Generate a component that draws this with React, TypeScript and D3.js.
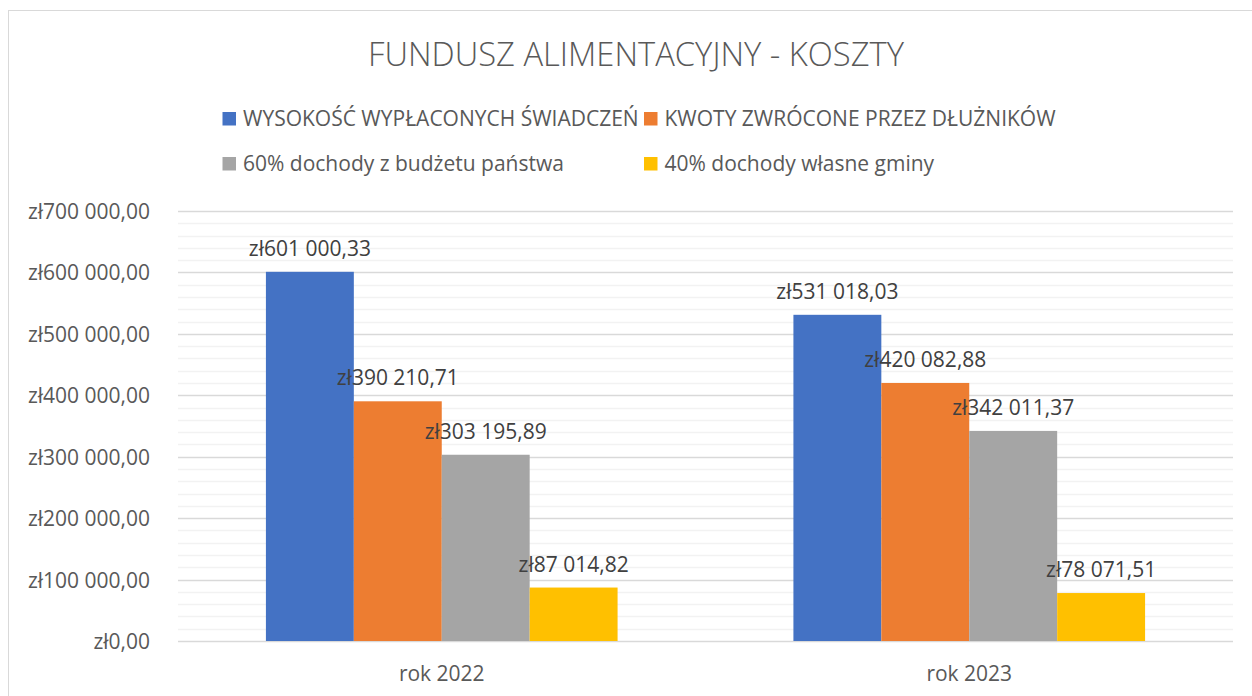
import React from "react";
import * as d3 from "d3";

const categories = ["rok 2022", "rok 2023"];
const seriesNames = [
  "WYSOKOŚĆ WYPŁACONYCH ŚWIADCZEŃ",
  "KWOTY ZWRÓCONE PRZEZ DŁUŻNIKÓW",
  "60% dochody z budżetu państwa",
  "40% dochody własne gminy",
];
const seriesColors = ["#4472C4", "#ED7D31", "#A5A5A5", "#FFC000"];
const values2022 = [601000.33, 390210.71, 303195.89, 87014.82];
const values2023 = [531018.03, 420082.88, 342011.37, 78071.51];
const seriesValues = [values2022, values2023];
const yTicks = [0, 100000, 200000, 300000, 400000, 500000, 600000, 700000];

const fmt = (v: number) => {
  const [i, d] = v.toFixed(2).split(".");
  const grouped = i.replace(/\B(?=(\d{3})+(?!\d))/g, " ");
  return `zł${grouped},${d}`;
};

export default function App() {
  const W = 1252, H = 696;
  const left = 178, right = 1233, top = 211, bottom = 641;
  const font = "'Open Sans', 'Noto Sans', sans-serif";
  const textColor = "#595959";

  const y = d3.scaleLinear().domain([0, 700000]).range([bottom, top]);
  const x0 = d3.scaleBand().domain(categories).range([left, right]).paddingInner(0).paddingOuter(0);
  const bw = x0.bandwidth() / 6;
  const minorTicks = d3.range(0, 700001, 20000).filter((t) => t % 100000 !== 0);

  const legendItems = [
    { x: 222.5, y: 125.5 },
    { x: 644, y: 125.5 },
    { x: 222.5, y: 170.5 },
    { x: 644, y: 170.5 },
  ];

  return (
    <svg width={W} height={H} style={{ position: "absolute", left: 0, top: 0 }}>
      <rect x={0} y={0} width={W} height={H} fill="#fff" />
      <rect x={8.5} y={10.5} width={W + 20} height={H + 20} fill="#fff" stroke="#D9D9D9" strokeWidth={1} />
      <text x={636} y={66} textAnchor="middle" fontFamily={font} fontSize={33} fontWeight={300} fill={textColor} textLength={536} lengthAdjust="spacingAndGlyphs">
        FUNDUSZ ALIMENTACYJNY - KOSZTY
      </text>
      {seriesNames.map((n, i) => (
        <g key={n}>
          <rect x={legendItems[i].x} y={legendItems[i].y - 13.5} width={13.5} height={13.5} fill={seriesColors[i]} />
          <text x={legendItems[i].x + 20.5} y={legendItems[i].y} fontFamily={font} fontSize={21} fill={textColor}>
            {n}
          </text>
        </g>
      ))}
      {minorTicks.map((t) => (
        <line key={"m" + t} x1={left} x2={right} y1={Math.round(y(t)) + 0.5} y2={Math.round(y(t)) + 0.5} stroke="#F2F2F2" strokeWidth={1.5} />
      ))}
      {yTicks.map((t) => (
        <g key={t}>
          <line x1={left} x2={right} y1={Math.round(y(t)) + 0.5} y2={Math.round(y(t)) + 0.5} stroke="#D9D9D9" strokeWidth={1.5} />
          <text x={150} y={y(t) + 8} textAnchor="end" fontFamily={font} fontSize={21} fill={textColor}>
            {fmt(t)}
          </text>
        </g>
      ))}
      {categories.map((c, ci) => (
        <g key={c}>
          {seriesValues[ci].map((v, si) => {
            const bx = (x0(c) as number) + bw + si * bw;
            return (
              <rect key={si} x={bx} y={y(v)} width={bw} height={bottom - y(v)} fill={seriesColors[si]} />
            );
          })}
          <text x={(x0(c) as number) + x0.bandwidth() / 2} y={681} textAnchor="middle" fontFamily={font} fontSize={21} fill={textColor}>
            {c}
          </text>
        </g>
      ))}
      {categories.map((c, ci) =>
        seriesValues[ci].map((v, si) => {
          const bx = (x0(c) as number) + bw + si * bw + bw / 2;
          return (
            <text key={c + si} x={bx} y={y(v) - 16} textAnchor="middle" fontFamily={font} fontSize={21} fill="#404040">
              {fmt(v)}
            </text>
          );
        })
      )}
    </svg>
  );
}
